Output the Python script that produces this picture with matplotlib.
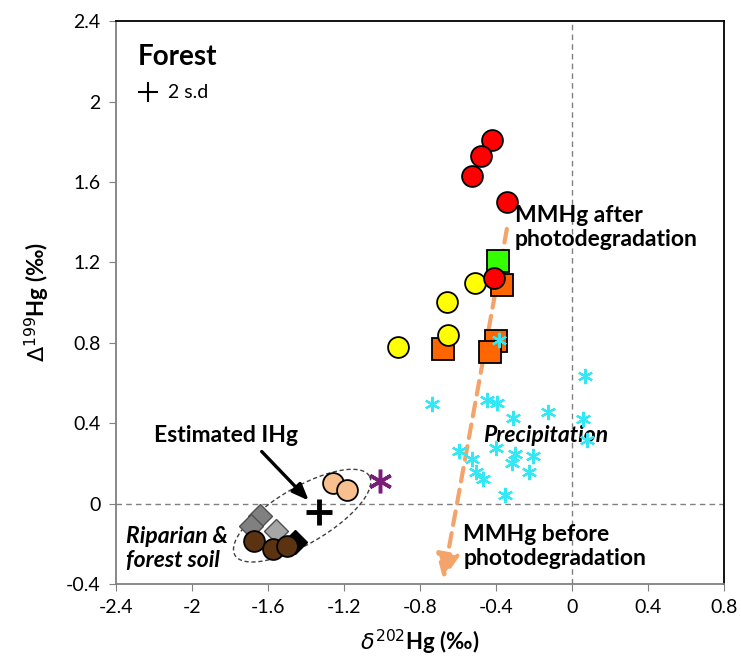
import numpy as np
import matplotlib.pyplot as plt
from matplotlib.patches import FancyArrowPatch

plt.rcParams['font.family'] = ['Lato', 'DejaVu Sans']

# data
red_x = [-0.42, -0.48, -0.525, -0.34, -0.41]
red_y = [1.81, 1.73, 1.63, 1.50, 1.12]
yellow_x = [-0.51, -0.656, -0.651, -0.913]
yellow_y = [1.095, 1.005, 0.837, 0.78]
orange_x = [-0.366, -0.40, -0.434, -0.68]
orange_y = [1.086, 0.81, 0.755, 0.77]
green_x = [-0.387]
green_y = [1.205]
precip_x = [0.068, -0.737, -0.445, -0.395, -0.31, -0.128, 0.06, 0.077, -0.40, -0.597,
            -0.527, -0.30, -0.317, -0.206, -0.504, -0.469, -0.224, -0.355, -0.383]
precip_y = [0.637, 0.497, 0.517, 0.50, 0.426, 0.454, 0.423, 0.318, 0.277, 0.26,
            0.222, 0.249, 0.202, 0.239, 0.156, 0.12, 0.156, 0.041, 0.816]
purple_x = [-1.01]
purple_y = [0.11]
peach_x = [-1.256, -1.186]
peach_y = [0.10, 0.066]
dgray_x = [-1.64, -1.687]
dgray_y = [-0.06, -0.113]
lgray_x = [-1.559]
lgray_y = [-0.138]
black_x = [-1.46]
black_y = [-0.19]
brown_x = [-1.673, -1.576, -1.498]
brown_y = [-0.187, -0.225, -0.212]
ihg_x, ihg_y = -1.332, -0.043

fig = plt.figure(figsize=(7.41, 6.61), dpi=100)
ax = fig.add_axes([0.1565, 0.1165, 0.8205, 0.8515])
ax.set_xlim(-2.4, 0.8)
ax.set_ylim(-0.4, 2.4)

ax.axvline(0, color='#808080', ls=(0, (4, 3)), lw=1, zorder=1)
ax.axhline(0, color='#808080', ls=(0, (4, 3)), lw=1, zorder=1)

# photodegradation arrow
arr = FancyArrowPatch((-0.34, 1.38), (-0.68, -0.39), arrowstyle='-|>,head_length=15,head_width=7',
                      color='#F4A46A', lw=3, ls=(0, (3.3, 2)), mutation_scale=1, zorder=2)
ax.add_patch(arr)

# soil ellipse, defined in pixel-like units
w_px = ax.get_position().width * 741
h_px = ax.get_position().height * 661
sx = 3.2 / w_px
sy = 2.8 / h_px
t = np.linspace(0, 2 * np.pi, 200)
a, b, ang = 78, 28, np.deg2rad(30.5)
u = a * np.cos(t)
v = b * np.sin(t)
ex = -1.42 + (u * np.cos(ang) - v * np.sin(ang)) * sx
ey = -0.06 + (u * np.sin(ang) + v * np.cos(ang)) * sy
ax.plot(ex, ey, color='#404040', ls=(0, (3, 2)), lw=1, zorder=2)

ax.plot(orange_x, orange_y, 's', ms=16, mfc='#FF6600', mec='black', mew=1.3, ls='none', zorder=3)
ax.plot(yellow_x, yellow_y, 'o', ms=15, mfc='#FFFF00', mec='black', mew=1.3, ls='none', zorder=4)
ax.plot(green_x, green_y, 's', ms=16, mfc='#33FF00', mec='black', mew=1.3, ls='none', zorder=4)
ax.plot(red_x, red_y, 'o', ms=15, mfc='#FF0000', mec='black', mew=1.3, ls='none', zorder=5)
ax.plot(precip_x, precip_y, marker=(6, 2, 0), ms=11, mec='#33E8F5', mew=1.6, ls='none', zorder=6)
ax.plot(purple_x, purple_y, marker=(6, 2, 0), ms=17, mec='#7A1F78', mew=2.5, ls='none', zorder=6)
ax.plot(peach_x, peach_y, 'o', ms=15, mfc='#F9C08F', mec='black', mew=1.3, ls='none', zorder=4)
ax.plot(dgray_x, dgray_y, 'D', ms=12, mfc='#808080', mec='#505050', mew=1, ls='none', zorder=3)
ax.plot(lgray_x, lgray_y, 'D', ms=12, mfc='#A6A6A6', mec='#505050', mew=1, ls='none', zorder=3)
ax.plot(black_x, black_y, 'D', ms=12, mfc='black', mec='black', mew=1, ls='none', zorder=3)
ax.plot(brown_x, brown_y, 'o', ms=15, mfc='#5C3310', mec='black', mew=1.3, ls='none', zorder=4)
ax.plot([ihg_x], [ihg_y], '+', ms=19, mec='black', mew=3.5, ls='none', zorder=6)

ax.annotate('', xy=(-1.375, 0.005), xytext=(-1.643, 0.269),
            arrowprops=dict(arrowstyle='-|>,head_length=1.0,head_width=0.4', color='black', lw=2.4),
            zorder=6)

bold = dict(fontweight='bold', fontsize=16.5)
ax.text(-2.283, 2.184, 'Forest', fontsize=20, fontweight='bold', va='baseline', ha='left')
ax.plot([-2.231], [2.05], '+', ms=15, mec='black', mew=1.5, ls='none')
ax.text(-2.126, 2.02, '2 s.d', fontsize=14, va='baseline', ha='left')
ax.text(-0.30, 1.485, 'MMHg after\nphotodegradation', va='top', ha='left', linespacing=1.2, **bold)
ax.text(-0.467, 0.338, 'Precipitation', fontstyle='italic', va='center', ha='left', **bold)
ax.text(-2.2, 0.338, 'Estimated IHg', va='center', ha='left', **bold)
ax.text(-2.346, -0.11, 'Riparian &\nforest soil', fontstyle='italic', va='top', ha='left',
        linespacing=1.2, **bold)
ax.text(-0.572, -0.1, 'MMHg before\nphotodegradation', va='top', ha='left', linespacing=1.2, **bold)

ax.set_xticks(np.arange(-2.4, 0.81, 0.4))
ax.set_xticklabels(['-2.4', '-2', '-1.6', '-1.2', '-0.8', '-0.4', '0', '0.4', '0.8'])
ax.set_yticks(np.arange(-0.4, 2.41, 0.4))
ax.set_yticklabels(['-0.4', '0', '0.4', '0.8', '1.2', '1.6', '2', '2.4'])
ax.tick_params(direction='out', length=5, color='#808080', labelsize=14, pad=6)
ax.spines['left'].set_color('#808080')
ax.spines['bottom'].set_color('#808080')
ax.spines['top'].set_color('black')
ax.spines['right'].set_color('black')
for s in ax.spines.values():
    s.set_linewidth(1.3)

ax.set_xlabel(r'$\delta^{202}$Hg (‰)', fontsize=16, fontweight='bold', labelpad=8)
ax.set_ylabel(r'$\Delta^{199}$Hg (‰)', fontsize=16, fontweight='bold', labelpad=10)

fig.savefig('out.png', dpi=100)
